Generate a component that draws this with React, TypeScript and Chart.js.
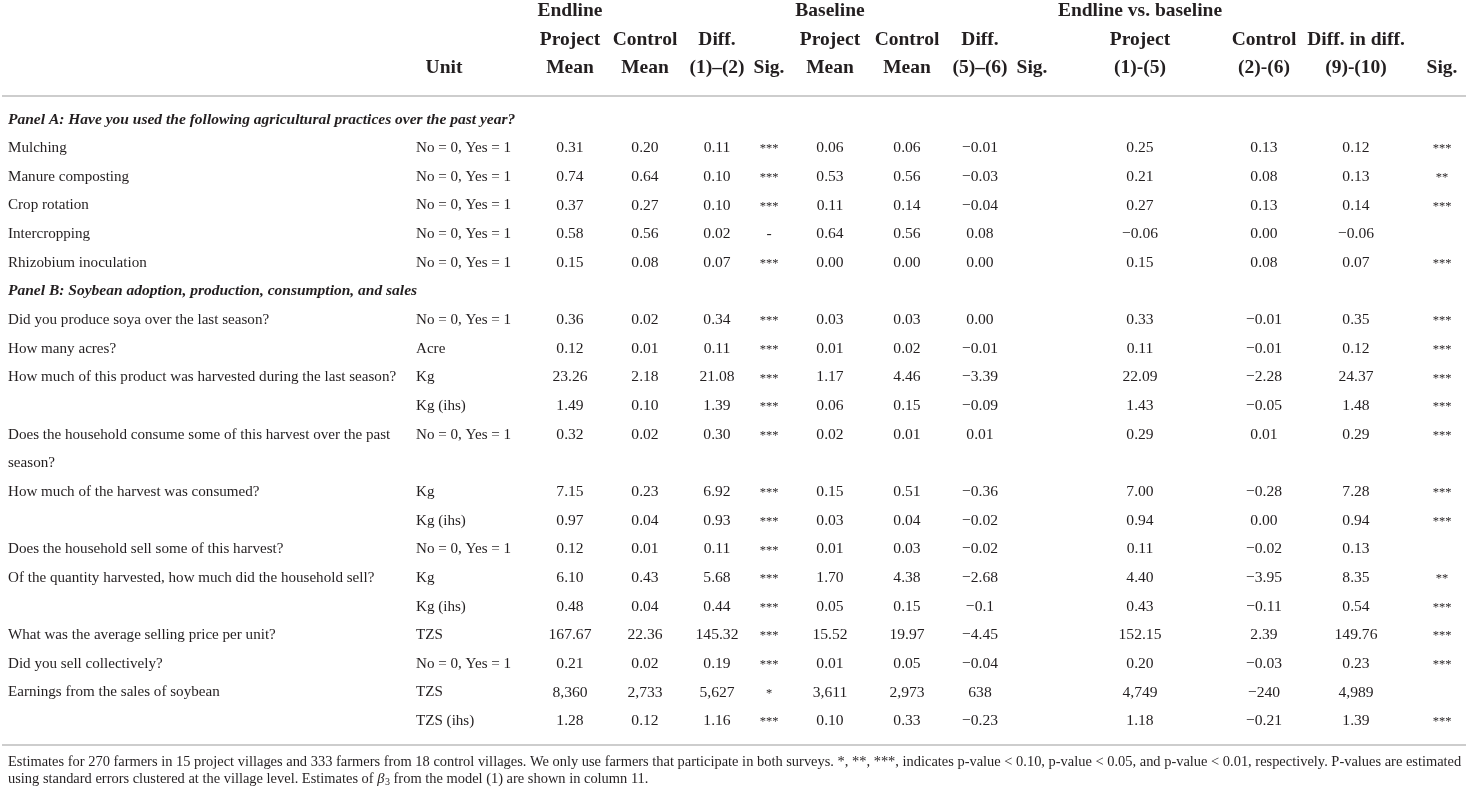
import React, { useEffect, useRef } from "react";
import { Chart, registerables } from "chart.js";

Chart.register(...registerables);

// ---------------- DATA ----------------
const rowLabels: string[] = [
  "Panel A: Have you used the following agricultural practices over the past year?",
  "Mulching",
  "Manure composting",
  "Crop rotation",
  "Intercropping",
  "Rhizobium inoculation",
  "Panel B: Soybean adoption, production, consumption, and sales",
  "Did you produce soya over the last season?",
  "How many acres?",
  "How much of this product was harvested during the last season?",
  "",
  "Does the household consume some of this harvest over the past",
  "season?",
  "How much of the harvest was consumed?",
  "",
  "Does the household sell some of this harvest?",
  "Of the quantity harvested, how much did the household sell?",
  "",
  "What was the average selling price per unit?",
  "Did you sell collectively?",
  "Earnings from the sales of soybean",
  "",
];

const panelRows: number[] = [0, 6];

const units: (string | null)[] = [
  null, "No = 0, Yes = 1", "No = 0, Yes = 1", "No = 0, Yes = 1", "No = 0, Yes = 1", "No = 0, Yes = 1",
  null, "No = 0, Yes = 1", "Acre", "Kg", "Kg (ihs)", "No = 0, Yes = 1", null, "Kg", "Kg (ihs)",
  "No = 0, Yes = 1", "Kg", "Kg (ihs)", "TZS", "No = 0, Yes = 1", "TZS", "TZS (ihs)",
];

const endlineProject = [null, "0.31", "0.74", "0.37", "0.58", "0.15", null, "0.36", "0.12", "23.26", "1.49", "0.32", null, "7.15", "0.97", "0.12", "6.10", "0.48", "167.67", "0.21", "8,360", "1.28"];
const endlineControl = [null, "0.20", "0.64", "0.27", "0.56", "0.08", null, "0.02", "0.01", "2.18", "0.10", "0.02", null, "0.23", "0.04", "0.01", "0.43", "0.04", "22.36", "0.02", "2,733", "0.12"];
const endlineDiff = [null, "0.11", "0.10", "0.10", "0.02", "0.07", null, "0.34", "0.11", "21.08", "1.39", "0.30", null, "6.92", "0.93", "0.11", "5.68", "0.44", "145.32", "0.19", "5,627", "1.16"];
const endlineSig = [null, "***", "***", "***", "-", "***", null, "***", "***", "***", "***", "***", null, "***", "***", "***", "***", "***", "***", "***", "*", "***"];
const baselineProject = [null, "0.06", "0.53", "0.11", "0.64", "0.00", null, "0.03", "0.01", "1.17", "0.06", "0.02", null, "0.15", "0.03", "0.01", "1.70", "0.05", "15.52", "0.01", "3,611", "0.10"];
const baselineControl = [null, "0.06", "0.56", "0.14", "0.56", "0.00", null, "0.03", "0.02", "4.46", "0.15", "0.01", null, "0.51", "0.04", "0.03", "4.38", "0.15", "19.97", "0.05", "2,973", "0.33"];
const baselineDiff = [null, "\u22120.01", "\u22120.03", "\u22120.04", "0.08", "0.00", null, "0.00", "\u22120.01", "\u22123.39", "\u22120.09", "0.01", null, "\u22120.36", "\u22120.02", "\u22120.02", "\u22122.68", "\u22120.1", "\u22124.45", "\u22120.04", "638", "\u22120.23"];
const baselineSig: (string | null)[] = new Array(22).fill(null);
const evbProject = [null, "0.25", "0.21", "0.27", "\u22120.06", "0.15", null, "0.33", "0.11", "22.09", "1.43", "0.29", null, "7.00", "0.94", "0.11", "4.40", "0.43", "152.15", "0.20", "4,749", "1.18"];
const evbControl = [null, "0.13", "0.08", "0.13", "0.00", "0.08", null, "\u22120.01", "\u22120.01", "\u22122.28", "\u22120.05", "0.01", null, "\u22120.28", "0.00", "\u22120.02", "\u22123.95", "\u22120.11", "2.39", "\u22120.03", "\u2212240", "\u22120.21"];
const evbDiffInDiff = [null, "0.12", "0.13", "0.14", "\u22120.06", "0.07", null, "0.35", "0.12", "24.37", "1.48", "0.29", null, "7.28", "0.94", "0.13", "8.35", "0.54", "149.76", "0.23", "4,989", "1.39"];
const evbSig = [null, "***", "**", "***", null, "***", null, "***", "***", "***", "***", "***", null, "***", "***", null, "**", "***", "***", "***", null, "***"];

const headerLine1 = ["", "Endline", "", "", "", "Baseline", "", "", "", "Endline vs. baseline", "", "", ""];
const headerLine2 = ["", "Project", "Control", "Diff.", "", "Project", "Control", "Diff.", "", "Project", "Control", "Diff. in diff.", ""];
const headerLine3 = ["Unit", "Mean", "Mean", "(1)\u2013(2)", "Sig.", "Mean", "Mean", "(5)\u2013(6)", "Sig.", "(1)-(5)", "(2)-(6)", "(9)-(10)", "Sig."];

const footnoteLine1 = "Estimates for 270 farmers in 15 project villages and 333 farmers from 18 control villages. We only use farmers that participate in both surveys. *, **, ***, indicates p-value < 0.10, p-value < 0.05, and p-value < 0.01, respectively. P-values are estimated";
const footnoteLine2Start = "using standard errors clustered at the village level. Estimates of ";
const footnoteSymbol = "\u03B2";
const footnoteSubscript = "3";
const footnoteLine2End = " from the model (1) are shown in column 11.";

// ---------------- LAYOUT / STYLE ----------------
const W = 1468;
const H = 793;
const FONT = "'Liberation Serif', 'Times New Roman', Times, serif";
const TEXT_COLOR = "#231f20";
const RULE_COLOR = "#cdcdcd";
const ROW_H = 28.65;
const FIRST_ROW_Y = 119.5;
const HEADER_ROWS = [-3.79, -2.78, -1.8];
const RULE_ROWS = [-0.82, 21.83];
const FOOT_ROWS = [22.42, 23.04];
const LABEL_X = 8;
const UNIT_HEADER_X = 444;
const COL_X = [416, 570, 645, 717, 769, 830, 907, 980, 1032, 1140, 1264, 1356, 1442];
const LABEL_FONT = `15.1px ${FONT}`;
const NUM_FONT = `15.6px ${FONT}`;
const PANEL_FONT = `italic bold 15.5px ${FONT}`;
const HEADER_FONT = `bold 19.5px ${FONT}`;
const STAR_FONT = `12.5px ${FONT}`;
const STAR_SHIFT = 1;
const FOOT_FONT = `14.45px ${FONT}`;

const numericColumns = [
  endlineProject, endlineControl, endlineDiff, endlineSig,
  baselineProject, baselineControl, baselineDiff, baselineSig,
  evbProject, evbControl, evbDiffInDiff, evbSig,
];

type TextDataset = {
  type: "scatter";
  data: { x: number; y: number }[];
  texts: string[];
  fonts: string[];
  align: CanvasTextAlign;
  pointRadius: number;
  showLine: boolean;
};

function makeDataset(points: { x: number; y: number; t: string; f: string }[], align: CanvasTextAlign): TextDataset {
  return {
    type: "scatter",
    data: points.map((p) => ({ x: p.x, y: p.y })),
    texts: points.map((p) => p.t),
    fonts: points.map((p) => p.f),
    align,
    pointRadius: 0,
    showLine: false,
  };
}

function buildDatasets(): TextDataset[] {
  const sets: TextDataset[] = [];
  sets.push(
    makeDataset(
      rowLabels
        .map((t, i) => ({ x: LABEL_X, y: i, t, f: panelRows.includes(i) ? PANEL_FONT : LABEL_FONT }))
        .filter((p) => p.t !== ""),
      "left"
    )
  );
  sets.push(
    makeDataset(
      units
        .map((t, i) => ({ x: COL_X[0], y: i, t: t ?? "", f: LABEL_FONT }))
        .filter((p) => p.t !== ""),
      "left"
    )
  );
  numericColumns.forEach((col, j) => {
    sets.push(
      makeDataset(
        col
          .map((t, i) => ({ x: COL_X[j + 1], y: i, t: t ?? "", f: t && t.startsWith("*") ? STAR_FONT : NUM_FONT }))
          .filter((p) => p.t !== ""),
        "center"
      )
    );
  });
  [headerLine1, headerLine2, headerLine3].forEach((line, li) => {
    sets.push(
      makeDataset(
        line
          .map((t, j) => ({ x: j === 0 ? UNIT_HEADER_X : COL_X[j], y: HEADER_ROWS[li], t, f: HEADER_FONT }))
          .filter((p) => p.t !== ""),
        "center"
      )
    );
  });
  return sets;
}

const tablePlugin = {
  id: "tableText",
  afterDatasetsDraw(chart: any) {
    const ctx: CanvasRenderingContext2D = chart.ctx;
    const xs = chart.scales.x;
    const ys = chart.scales.y;
    ctx.save();
    ctx.fillStyle = RULE_COLOR;
    RULE_ROWS.forEach((r) => {
      const y = Math.round(ys.getPixelForValue(r));
      ctx.fillRect(xs.getPixelForValue(2), y - 1, xs.getPixelForValue(W - 2) - xs.getPixelForValue(2), 2);
    });
    ctx.fillStyle = TEXT_COLOR;
    ctx.textBaseline = "middle";
    chart.data.datasets.forEach((ds: any, di: number) => {
      const meta = chart.getDatasetMeta(di);
      ctx.textAlign = ds.align;
      meta.data.forEach((el: any, i: number) => {
        const t: string = ds.texts[i];
        ctx.font = ds.fonts[i];
        const shift = t.startsWith("*") ? STAR_SHIFT : 0;
        ctx.fillText(t, el.x, el.y + shift);
      });
    });
    ctx.textAlign = "left";
    ctx.font = FOOT_FONT;
    const x0 = xs.getPixelForValue(LABEL_X);
    const fy1 = ys.getPixelForValue(FOOT_ROWS[0]);
    const fy2 = ys.getPixelForValue(FOOT_ROWS[1]);
    ctx.fillText(footnoteLine1, x0, fy1);
    let x = x0;
    ctx.fillText(footnoteLine2Start, x, fy2);
    x += ctx.measureText(footnoteLine2Start).width;
    ctx.font = `italic ${FOOT_FONT}`;
    ctx.fillText(footnoteSymbol, x, fy2);
    x += ctx.measureText(footnoteSymbol).width;
    ctx.font = `10px ${FONT}`;
    ctx.fillText(footnoteSubscript, x + 0.5, fy2 + 3);
    x += ctx.measureText(footnoteSubscript).width + 0.5;
    ctx.font = FOOT_FONT;
    ctx.fillText(footnoteLine2End, x, fy2);
    ctx.restore();
  },
};

export default function App() {
  const ref = useRef<HTMLCanvasElement | null>(null);
  useEffect(() => {
    document.body.style.margin = "0";
    document.body.style.background = "#ffffff";
    if (!ref.current) return;
    const chart = new Chart(ref.current, {
      type: "scatter",
      data: { datasets: buildDatasets() as any },
      options: {
        animation: false,
        responsive: false,
        maintainAspectRatio: false,
        events: [],
        layout: { padding: 0 },
        plugins: { legend: { display: false }, tooltip: { enabled: false }, title: { display: false } },
        scales: {
          x: { type: "linear", display: false, min: 0, max: W },
          y: {
            type: "linear",
            display: false,
            reverse: true,
            min: -FIRST_ROW_Y / ROW_H,
            max: (H - FIRST_ROW_Y) / ROW_H,
          },
        },
      },
      plugins: [tablePlugin],
    });
    return () => chart.destroy();
  }, []);
  return (
    <div style={{ width: W, height: H, background: "#fff" }}>
      <canvas ref={ref} width={W} height={H} style={{ display: "block", width: W, height: H }} />
    </div>
  );
}
